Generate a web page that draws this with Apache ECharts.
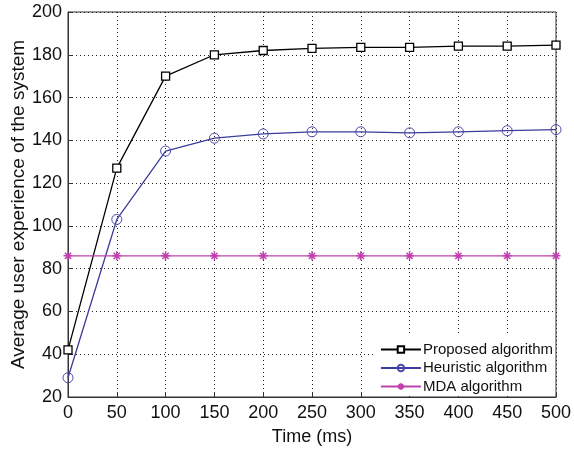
<!DOCTYPE html>
<html>
<head>
<meta charset="utf-8">
<script src="https://cdn.jsdelivr.net/npm/echarts@6/dist/echarts.min.js"></script>
<style>
  html, body { margin: 0; padding: 0; background: #fff; }
  #main { width: 574px; height: 449px; }
</style>
</head>
<body>
<div id="main"></div>
<script>
// data
let times = [0, 50, 100, 150, 200, 250, 300, 350, 400, 450, 500];
let proposed = [42, 127, 170, 180, 182, 183, 183.5, 183.5, 184, 184, 184.5];
let heuristic = [29, 103, 135, 141, 143, 144, 144, 143.5, 144, 144.5, 145];
let mda = [86, 86, 86, 86, 86, 86, 86, 86, 86, 86, 86];

function pairs(vals) {
    return times.map(function (t, i) { return [t, vals[i]]; });
}

let font = 'Liberation Sans, Arial, sans-serif';
let star = 'path://M0 5L10 5M5 0L5 10M1.5 1.5L8.5 8.5M8.5 1.5L1.5 8.5';

let myChart = echarts.init(document.getElementById('main'));

let option = {
    animation: false,
    backgroundColor: '#fff',
    grid: {
        left: 68, right: 18, top: 12, bottom: 52,
        outerBoundsMode: 'none',
        containLabel: false,
        show: true, borderColor: '#333', borderWidth: 1
    },
    legend: {
        orient: 'vertical',
        right: 19, bottom: 53,
        itemWidth: 40, itemHeight: 8, itemGap: 3.5,
        padding: [7, 2, 2, 6],
        backgroundColor: '#fff',
        textStyle: { fontFamily: font, fontSize: 15, color: '#111', padding: [0, 0, 0, -3] },
        data: ['Proposed algorithm', 'Heuristic algorithm', 'MDA algorithm']
    },
    xAxis: {
        type: 'value', min: 0, max: 500, interval: 50,
        name: 'Time (ms)', nameLocation: 'middle', nameGap: 31,
        nameMoveOverlap: false,
        nameTextStyle: { fontFamily: font, fontSize: 18, color: '#111' },
        axisLine: { show: true, onZero: false, lineStyle: { color: '#333' } },
        axisTick: { inside: true, length: 5, lineStyle: { color: '#333' } },
        axisLabel: { fontFamily: font, fontSize: 18, color: '#111', margin: 7 },
        splitLine: { show: true, lineStyle: { color: '#222', type: [1, 3] } }
    },
    yAxis: {
        type: 'value', min: 20, max: 200, interval: 20,
        name: 'Average user experience of the system', nameLocation: 'middle', nameGap: 40,
        nameMoveOverlap: false,
        nameTextStyle: { fontFamily: font, fontSize: 19, color: '#111' },
        axisLine: { show: true, lineStyle: { color: '#333' } },
        axisTick: { inside: true, length: 5, lineStyle: { color: '#333' } },
        axisLabel: { fontFamily: font, fontSize: 18, color: '#111', margin: 6 },
        splitLine: { show: true, lineStyle: { color: '#222', type: [1, 3] } }
    },
    series: [
        {
            name: 'Proposed algorithm', type: 'line', data: pairs(proposed),
            symbol: 'rect', symbolSize: 8,
            lineStyle: { color: '#000', width: 1.3 },
            itemStyle: { color: '#fff', borderColor: '#000', borderWidth: 1.3 }
        },
        {
            name: 'Heuristic algorithm', type: 'line', data: pairs(heuristic),
            symbol: 'circle', symbolSize: 10,
            lineStyle: { color: '#3c3c9c', width: 1.3 },
            itemStyle: { color: 'rgba(255,255,255,0)', borderColor: '#4a4aaa', borderWidth: 1 }
        },
        {
            name: 'MDA algorithm', type: 'line', data: pairs(mda),
            symbol: star, symbolSize: 9,
            lineStyle: { color: '#c040b0', width: 1.3 },
            itemStyle: { color: '#c040b0', borderColor: '#c040b0', borderWidth: 1.5 }
        }
    ]
};

myChart.setOption(option, true);
</script>
</body>
</html>
